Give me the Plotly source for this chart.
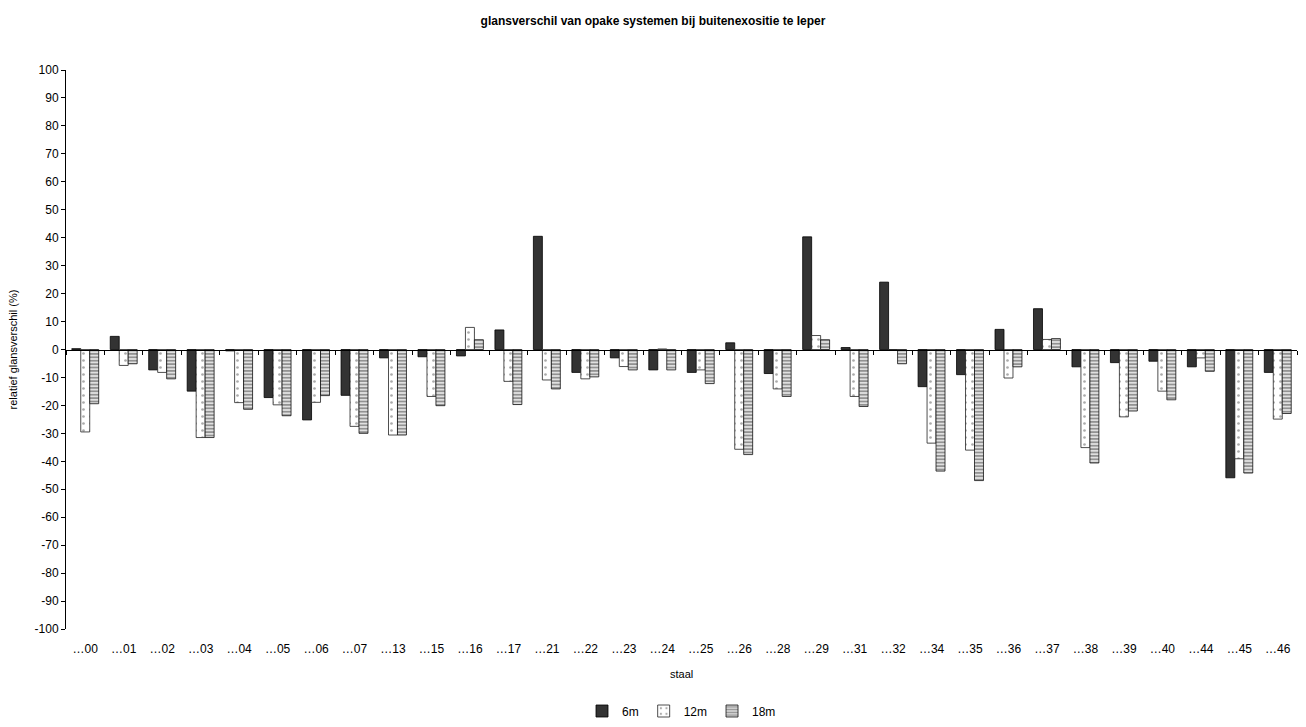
import plotly.graph_objects as go

# Samples (staal) and relative gloss difference per exposure period
staal = ["…00", "…01", "…02", "…03", "…04", "…05", "…06", "…07", "…13", "…15",
         "…16", "…17", "…21", "…22", "…23", "…24", "…25", "…26", "…28", "…29",
         "…31", "…32", "…34", "…35", "…36", "…37", "…38", "…39", "…40", "…44",
         "…45", "…46"]

m6 = [0.3, 4.7, -7.3, -14.9, -0.5, -17.2, -25.2, -16.4, -3.0, -2.6,
      -2.3, 7.0, 40.5, -8.2, -3.0, -7.3, -8.2, 2.4, -8.6, 40.3,
      0.7, 24.1, -13.3, -9.0, 7.2, 14.6, -6.2, -4.7, -4.2, -6.2,
      -45.9, -8.2]

m12 = [-29.5, -5.7, -8.2, -31.5, -19.0, -19.8, -18.9, -27.5, -30.6, -16.8,
       7.9, -11.4, -10.9, -10.5, -6.1, 0.2, -7.3, -35.7, -14.1, 5.0,
       -16.8, 0.0, -33.5, -36.0, -10.2, 3.6, -35.1, -24.1, -14.9, -3.0,
       -39.1, -24.9]

m18 = [-19.4, -5.1, -10.5, -31.5, -21.4, -23.7, -16.5, -30.0, -30.6, -20.1,
       3.5, -19.7, -14.1, -9.8, -7.3, -7.3, -12.2, -37.6, -16.8, 3.5,
       -20.4, -5.1, -43.5, -46.9, -6.2, 3.9, -40.6, -22.0, -18.0, -7.8,
       -44.2, -22.9]

y_ticks = list(range(-100, 101, 10))

FONT = "Liberation Sans, Arial, sans-serif"

fig = go.Figure()

fig.add_trace(go.Bar(
    name="6m", x=staal, y=m6,
    marker=dict(color="#333333", line=dict(color="#000000", width=0.8)),
))
fig.add_trace(go.Bar(
    name="12m", x=staal, y=m12,
    marker=dict(color="#ffffff", line=dict(color="#222222", width=0.8),
                pattern=dict(shape=".", fgcolor="#555555", bgcolor="#ffffff",
                             size=7, solidity=0.12)),
))
fig.add_trace(go.Bar(
    name="18m", x=staal, y=m18,
    marker=dict(color="#d8d8d8", line=dict(color="#111111", width=0.8),
                pattern=dict(shape="-", fgcolor="#444444", bgcolor="#e0e0e0",
                             size=3.4, solidity=0.5)),
))

fig.update_layout(
    width=1306, height=727,
    paper_bgcolor="#ffffff", plot_bgcolor="#ffffff",
    margin=dict(l=66, r=9, t=70, b=98, autoexpand=False),
    barmode="group", bargap=0.3, bargroupgap=0,
    font=dict(family=FONT, size=12, color="#000000"),
    title=dict(text="<b>glansverschil van opake systemen bij buitenexositie te Ieper</b>",
               x=0.5, xanchor="center", y=0.972, yanchor="middle",
               font=dict(family=FONT, size=12, color="#000000")),
    showlegend=True,
    legend=dict(orientation="h", x=0.5, xanchor="center",
                yref="container", y=0.022, yanchor="middle",
                font=dict(family=FONT, size=12), itemwidth=30,
                tracegroupgap=0, bgcolor="rgba(0,0,0,0)"),
    xaxis=dict(
        type="category", anchor="free", position=0.5, automargin=False,
        showline=True, linecolor="#000000", linewidth=1,
        ticks="outside", ticklen=4, tickcolor="#000000", tickson="boundaries",
        showgrid=False, zeroline=False,
        ticklabelstandoff=288,
        tickfont=dict(family=FONT, size=12),
    ),
    yaxis=dict(
        range=[-100, 100], tickmode="array", tickvals=y_ticks,
        ticktext=[str(v) for v in y_ticks], automargin=False,
        showline=True, linecolor="#000000", linewidth=1,
        ticks="outside", ticklen=4, tickcolor="#000000",
        showgrid=False, zeroline=False,
        tickfont=dict(family=FONT, size=12),
        title=dict(text="relatief glansverschil (%)", font=dict(family=FONT, size=11),
                   standoff=14),
    ),
    annotations=[
        dict(text="staal", xref="paper", yref="paper", x=0.5, y=-0.0805,
             xanchor="center", yanchor="middle", showarrow=False,
             font=dict(family=FONT, size=11)),
    ],
)

fig.write_html("out.html")
